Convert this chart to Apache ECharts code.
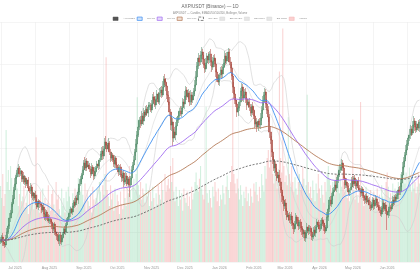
<!DOCTYPE html>
<html><head><meta charset="utf-8">
<script src="https://cdn.jsdelivr.net/npm/echarts@6/dist/echarts.min.js"></script>
<style>html,body{margin:0;padding:0;background:#fff}#c{width:420px;height:280px}</style>
</head><body><div id="c"></div>
<script>
// ---- data (price in chart units, volume in chart units) ----
const startDate = '2025-06-18';
const closes = [
22,25,20,18,17, 24,30,36,44,49, 58,63,72,78,85,89, 94,88,91,83,86,80,84,
78,82,74,71,75,66,69, 64,67,60,55,61,58,57, 52,55,48,44,50,46,41,43,40,
36,33,38,30,28,26, 21,27,20,24, 28,33,30,37, 42,45,49, 53,50,56,60,57,64,62,
70,78,83,87, 92,99,94,101,95,97, 93,88,95,91,86,90, 94,98,96,102,
108,111,106,113,120,117, 113,119,110,104,107, 102,98,104,97,94,
90,95,87,84,89,80,82, 86,78,83,77, 84,92,97,102, 110,118,127,135,142,
138,146,141,150, 147,153,149,155,157, 152,158,165,162, 157,163,168,160,169,
172,167,175,183,180, 176,167,160,150,137,140,124, 130,127,136,142,
146,151,148,154, 160,158,166,172, 165,169,160,167,162, 166,171,177,
185,196,204,200,207, 210,203,197, 193,199,206,202, 208,200,195,201,204,
198,190,184, 180,187,192, 188,195,199,206,201,204, 210,200,194,
186,175,168,162, 158,150,154, 160,171,175,164,167, 170,163,157,160,
155,149,156,152, 146,138,140, 135,141,137,144, 152,160,167, 170,158,152,
145,130,122,110,102, 94,98,90,84,87, 80,72,66,62, 56,59,51,45,47,
42,46,39,37, 33,38,45,42, 36,40,34,32, 28,30,24, 29,35,31,34, 30,25,26,
32,29,35,40,37, 33,38,42, 39,35,31,34, 45,53,62, 58,66,70,72, 77,74,82,87,
92,95,99, 94,84,77, 80,76,70,72, 75,82,78,84,79, 76,81,74,72,
69,73,66,64,62, 66,60,62,57, 54,58,62,56,59, 63,57,55,52, 48,54,59,53,57,
51,47, 50,55,53,58,62, 60,65,63,67, 72,70,79,87, 95,101,107,
112,118,124,127, 133,129,137, 141,135,132, 138,134,140
];
const firstOpen = 20;
const upperWick = [
3,2,4,1,2,3,4,2,5,3,2,4,3,6,2,3,4,2,3,1, 2,4,3,2,1,3,2,4,2,3,1,2,4,3,2,1,3,2,2,4,
1,3,2,2,4,1,2,3,1,2,3,2,4,1,2,3,2,1,3,2, 2,3,4,2,1,3,2,4,2,3,4,5,3,2,4,3,6,2,3,4,
2,3,4,2,3,5,2,3,4,2,3,4,5,3,4,6,3,5,2,3, 3,2,4,3,2,3,4,2,3,1,2,3,2,4,3,2,3,2,4,3,
4,3,5,4,6,3,4,5,3,4,2,3,4,5,3,2,4,3,5,4, 3,4,2,5,3,4,6,3,5,4,3,4,5,3,6,4,3,5,4,3,
4,3,5,2,4,3,5,4,3,4,2,5,3,4,3,5,6,4,5,3, 4,5,3,4,2,5,3,4,3,5,2,4,3,4,5,3,4,2,3,4,
3,4,5,3,6,4,3,5,4,3,5,4,3,4,2,5,3,4,3,4, 3,4,2,3,4,3,2,4,3,5,3,4,2,3,5,4,6,3,4,3,
5,4,3,6,4,3,4,5,3,4,3,5,4,3,4,3,2,4,3,2, 3,2,4,3,2,3,4,2,3,2,3,2,4,3,2,3,4,2,3,2,
3,2,3,4,2,3,2,3,4,2,3,2,4,3,5,4,3,4,3,4, 3,4,5,3,4,6,3,4,3,4,2,3,4,3,2,4,3,4,2,3,
3,2,4,3,2,3,2,4,3,2,3,2,3,4,2,3,2,3,4,2, 3,2,3,2,4,3,2,3,2,3,4,2,3,4,3,2,3,4,3,4,
4,3,5,4,3,5,4,3,6,4,3,4,5,3,4,3,4,3
];
const lowerWick = [
2,3,4,2,3,2,3,2,3,4,2,3,4,2,3,2,4,3,2,3, 3,2,3,4,2,3,2,3,2,4,3,2,3,2,3,4,2,3,2,3,
2,3,4,2,3,2,3,4,2,3,2,4,3,5,2,3,2,3,2,3, 3,2,3,4,2,3,2,3,2,3,4,3,2,3,4,3,2,3,4,2,
3,4,2,3,4,3,2,3,4,3,2,3,4,3,2,4,3,2,3,4, 3,2,3,4,3,2,4,3,2,4,3,5,3,4,2,3,12,3,2,3,
3,2,4,3,2,3,4,2,3,4,3,2,3,4,3,2,3,4,3,2, 4,3,2,3,4,3,2,4,3,5,4,3,4,5,6,8,4,3,5,4,
3,4,2,3,4,3,5,4,3,2,4,3,5,3,4,3,2,4,3,4, 3,4,5,3,4,3,5,4,3,4,5,3,4,3,5,4,3,4,3,5,
4,3,5,4,3,4,3,5,4,6,5,4,3,5,4,3,4,5,3,4, 3,4,5,3,4,3,4,5,3,4,3,5,4,3,4,3,4,3,5,4,
4,5,6,4,5,4,3,5,4,3,5,4,3,6,4,5,3,4,3,4, 3,4,3,4,5,3,4,3,4,3,4,5,3,4,3,4,3,4,3,4,
3,4,3,2,4,3,4,3,2,4,3,4,3,2,3,4,3,2,3,4, 3,2,3,4,3,2,3,4,3,2,4,3,2,3,4,3,2,3,4,3,
3,4,3,2,4,3,2,3,4,3,2,3,4,3,2,3,4,3,2,3, 4,3,2,3,4,3,2,3,15,3,4,3,2,3,4,3,2,3,4,3,
3,4,3,2,3,4,3,2,3,4,3,2,3,4,3,2,3,4
];
const volumes = [
95,80,110,70,85,165,100,115,90,120,105,88,96,78,110,92,70,85,100,76,
82,95,68,74,90,60,86,72,98,80,66,90,156,84,70,62,88,75,92,68,
80,58,74,96,70,64,85,90,72,60,100,78,84,66,58,92,70,80,62,88,
76,94,82,70,60,86,74,92,68,80,105,96,88,110,84,72,98,64,90,76,
70,86,62,94,78,68,80,92,74,100,88,76,96,84,110,256,90,82,70,96,
78,86,64,92,70,84,76,60,88,72,66,94,80,70,100,86,120,90,78,96,
104,88,110,206,96,84,100,78,92,86,74,98,82,90,70,88,76,94,80,68,
86,72,96,84,78,100,90,74,110,88,96,104,92,120,100,130,88,76,94,82,
70,90,78,86,64,92,80,74,88,70,82,66,94,78,86,100,112,96,88,104,
120,92,84,78,96,194,86,74,90,80,68,94,82,100,88,76,92,70,84,78,
96,86,72,94,108,90,80,100,120,206,110,98,86,104,92,78,96,84,70,88,
80,94,76,86,70,92,82,74,98,88,100,84,76,94,80,110,96,88,120,104,
130,140,118,150,126,110,98,120,104,92,116,238,130,112,292,120,100,108,96,181,
110,94,120,100,88,106,92,84,100,110,90,96,118,104,88,96,209,100,86,94,
80,102,90,76,98,86,110,92,80,96,84,74,100,88,110,120,104,96,88,100,
92,84,110,98,120,86,104,94,112,100,88,96,80,92,76,88,84,178,90,78,
96,82,74,88,200,92,80,70,86,94,76,84,68,90,78,72,88,80,66,92,
76,84,70,96,82,74,90,100,112,94,80,86,72,98,84,92,78,88,100,94,
110,96,104,120,98,112,90,106,118,96,88,104,92,100,86,94,110,98
];
const seriesNames = ['AXP/USDT','EMA20','EMA50','EMA100','EMA200','BB Mid (20)','BB Upper','BB Lower','Volume'];
const monthNames = ['Jan','Feb','Mar','Apr','May','Jun','Jul','Aug','Sep','Oct','Nov','Dec'];

// ---- derived ----
const N = closes.length;
const dates = [];
{
  const d0 = new Date(startDate + 'T00:00:00Z');
  for (let i = 0; i < N; i++) {
    const d = new Date(d0.getTime() + i * 86400000);
    dates.push(d.toISOString().slice(0, 10));
  }
}
const ohlc = [], volData = [];
for (let i = 0; i < N; i++) {
  const o = i === 0 ? firstOpen : closes[i - 1];
  const c = closes[i];
  const h = Math.max(o, c) + upperWick[i];
  const l = Math.min(o, c) - lowerWick[i];
  ohlc.push([o, c, l, h]);
  const up = c >= o;
  volData.push({ value: volumes[i], itemStyle: { color: up ? 'rgba(110,205,150,0.30)' : 'rgba(240,115,115,0.30)' } });
}
// smoothed moving average (alpha = 1/n)
function ema(n) {
  const k = 1 / n; const out = []; let e = closes[0];
  for (let i = 0; i < N; i++) { e = i === 0 ? closes[0] : closes[i] * k + e * (1 - k); out.push(+e.toFixed(3)); }
  return out;
}
const mid = [], upB = [], loB = [];
for (let i = 0; i < N; i++) {
  const s = Math.max(0, i - 19); const w = closes.slice(s, i + 1);
  const m = w.reduce((a, b) => a + b, 0) / w.length;
  const sd = Math.sqrt(w.reduce((a, b) => a + (b - m) * (b - m), 0) / w.length);
  mid.push(+m.toFixed(3)); upB.push(+(m + 2 * sd).toFixed(3)); loB.push(+(m - 2 * sd).toFixed(3));
}
const lineS = (name, data, color, width, extra) => Object.assign({
  name, type: 'line', data, xAxisIndex: 0, yAxisIndex: 0, showSymbol: false, symbol: 'none',
  lineStyle: { color, width }, itemStyle: { color }, z: 3, silent: true
}, extra || {});

const chart = echarts.init(document.getElementById('c'), null, { renderer: 'canvas' });
chart.setOption({
  animation: false,
  backgroundColor: '#fff',
  title: {
    text: 'AXP/USDT (Binance) — 1D',
    subtext: 'AXP/USDT — Candles, EMA20/50/100/200, Bollinger, Volume',
    left: 'center', top: 4.5, itemGap: 2, padding: 0,
    textStyle: { fontSize: 4.6, color: '#666', fontWeight: 'normal' },
    subtextStyle: { fontSize: 2.7, color: '#888' }
  },
  legend: {
    top: 16.7, left: 'center', itemWidth: 5, itemHeight: 3.4, itemGap: 1.8, padding: 0,
    textStyle: { fontSize: 2.4, color: '#888' },
    icon: 'rect',
    data: [
      { name: 'AXP/USDT', itemStyle: { color: '#555', borderColor: '#444', borderWidth: 0.5 } },
      { name: 'EMA20', itemStyle: { color: '#cfe3fb', borderColor: '#3d8ef0', borderWidth: 0.7 } },
      { name: 'EMA50', itemStyle: { color: '#e6d9fb', borderColor: '#a06cf0', borderWidth: 0.7 } },
      { name: 'EMA100', itemStyle: { color: '#f1e1d6', borderColor: '#b47a58', borderWidth: 0.7 } },
      { name: 'EMA200', itemStyle: { color: '#fff', borderColor: '#555', borderWidth: 0.7, borderType: 'dashed' } },
      { name: 'BB Mid (20)', itemStyle: { color: '#e6e6e6', borderColor: '#d6d6d6', borderWidth: 0.5 } },
      { name: 'BB Upper', itemStyle: { color: '#e6e6e6', borderColor: '#d6d6d6', borderWidth: 0.5 } },
      { name: 'BB Lower', itemStyle: { color: '#e6e6e6', borderColor: '#d6d6d6', borderWidth: 0.5 } },
      { name: 'Volume', itemStyle: { color: '#fbd0d0', borderColor: '#f3b0b0', borderWidth: 0.5 } }
    ]
  },
  grid: [
    { left: 0, right: 0, top: 22, bottom: 18 },
    { left: 1.7, right: 12.7, top: 22, bottom: 18 }
  ],
  xAxis: [
    {
      type: 'category', data: dates, gridIndex: 0, boundaryGap: true,
      axisLine: { show: false }, axisTick: { show: false }, splitLine: { show: false },
      axisLabel: {
        fontSize: 3.6, color: '#999', margin: 4,
        interval: (idx, val) => val.slice(8) === '01',
        formatter: (val) => monthNames[+val.slice(5, 7) - 1] + ' ' + val.slice(0, 4)
      }
    },
    {
      type: 'value', gridIndex: 1, min: 0, max: 12, interval: 1,
      axisLine: { show: false }, axisTick: { show: false }, axisLabel: { show: false },
      splitLine: { show: true, lineStyle: { color: '#ececec', width: 0.6 } }
    }
  ],
  yAxis: [
    { type: 'value', gridIndex: 0, min: 0, max: 240, show: false, splitLine: { show: false } },
    { type: 'value', gridIndex: 0, min: 0, max: 300, show: false, splitLine: { show: false } },
    {
      type: 'value', gridIndex: 0, min: 0, max: 240, interval: 42, inverse: true,
      axisLine: { show: false }, axisTick: { show: false }, axisLabel: { show: false },
      splitLine: { show: true, lineStyle: { color: '#efefef', width: 0.6 } }
    },
    { type: 'value', gridIndex: 1, show: false, min: 0, max: 1 }
  ],
  series: [
    {
      name: 'AXP/USDT', type: 'candlestick', data: ohlc, xAxisIndex: 0, yAxisIndex: 0, z: 4,
      barWidth: 1.4,
      itemStyle: { color: '#4f8a66', color0: '#a9463d', borderColor: '#4f8a66', borderColor0: '#a9463d', borderWidth: 0.5 }
    },
    lineS('EMA20', ema(20), '#3d8ef0', 0.9, { z: 5 }),
    lineS('EMA50', ema(50), '#a06cf0', 0.9, { z: 5 }),
    lineS('EMA100', ema(100), '#b47a58', 0.9, { z: 5 }),
    lineS('EMA200', ema(200), '#555', 0.8, { z: 5, lineStyle: { color: '#555', width: 0.8, type: [2, 1.5] } }),
    lineS('BB Mid (20)', mid, '#d0d0d0', 0.5, { z: 2 }),
    lineS('BB Upper', upB, '#cfcfcf', 0.6, { z: 2 }),
    lineS('BB Lower', loB, '#cfcfcf', 0.6, { z: 2 }),
    {
      name: 'Volume', type: 'bar', data: volData, xAxisIndex: 0, yAxisIndex: 1, z: 1,
      barWidth: '100%', barGap: '0%', silent: true,
      itemStyle: { color: 'rgba(240,115,115,0.30)' }
    }
  ]
});
</script></body></html>
